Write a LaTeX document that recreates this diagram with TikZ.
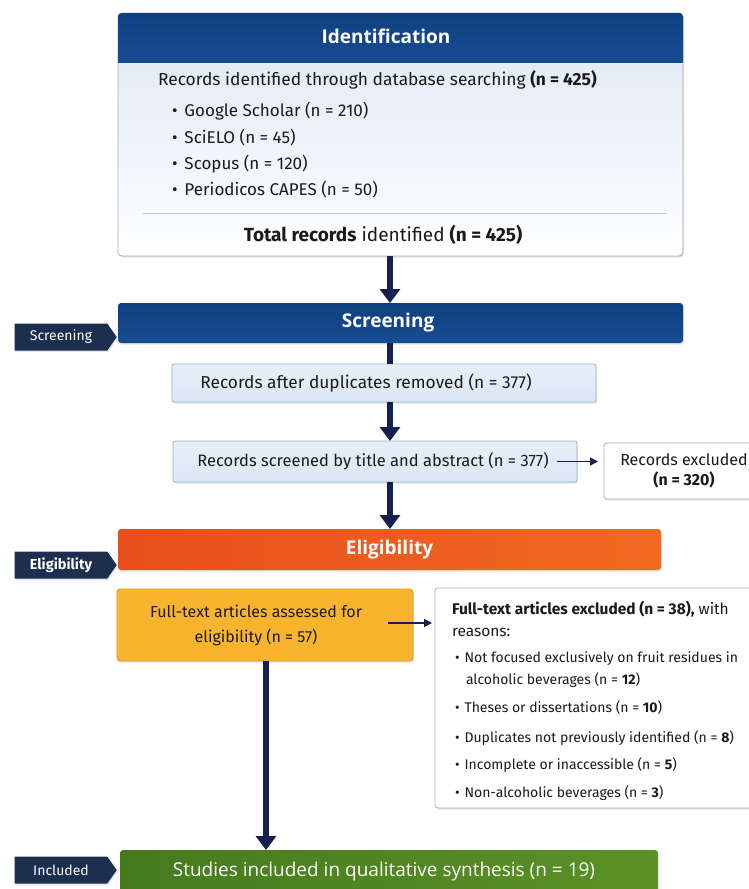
\documentclass[tikz,border=0pt]{standalone}
\usepackage{fontspec}
\setmainfont{Fira Sans}
\newfontfamily\headfont{Open Sans}
\usetikzlibrary{shapes.symbols,shadows,arrows.meta}
\definecolor{hdrblue}{HTML}{0E3F80}
\definecolor{hdrblue2}{HTML}{1A4C92}
\definecolor{navy}{HTML}{16204E}
\definecolor{tagc}{HTML}{1C2F4F}
\definecolor{lightbox}{HTML}{DCE7F5}
\definecolor{lightbord}{HTML}{9FB3CE}
\definecolor{idtop}{HTML}{DDE7F3}
\definecolor{orng}{HTML}{E84E1B}
\definecolor{orng2}{HTML}{F26A22}
\definecolor{yel}{HTML}{F8B42E}
\definecolor{yelb}{HTML}{E8961C}
\definecolor{grn}{HTML}{457B1D}
\definecolor{grn2}{HTML}{5C9128}
\definecolor{txt}{HTML}{1A1A1A}
\definecolor{graybord}{HTML}{A9AEB6}
\begin{document}
\begin{tikzpicture}[x=1pt,y=-1pt,
  every node/.style={inner sep=0pt, outer sep=0pt, text=txt},
  shad/.style={drop shadow={opacity=0.22, shadow xshift=1pt, shadow yshift=-1.5pt}},
  band/.style={draw=none, rounded corners=3pt, shad, font=\headfont\bfseries\fontsize{19}{22}\selectfont, text=white},
  tag/.style={shape=signal, signal to=east, signal pointer angle=110, fill=tagc, text=white,
     minimum width=102pt, minimum height=27pt, font=\fontsize{14}{16}\selectfont, shad},
  lbox/.style={draw=lightbord, line width=0.8pt, rounded corners=2pt, fill=lightbox, shad,
     top color=lightbox!70!white, bottom color=lightbox, font=\fontsize{16.5}{19}\selectfont},
  wbox/.style={draw=graybord, line width=0.8pt, rounded corners=3pt, fill=white, shad},
  flow/.style={draw=navy, line width=5.5pt, -{Triangle[width=20pt,length=14pt]}},
  thin/.style={draw=navy, line width=1.4pt, -{Triangle[width=8pt,length=8pt]}},
  body/.style={font=\fontsize{17.4}{20}\selectfont, anchor=west},
  bul/.style={font=\fontsize{17}{20}\selectfont, anchor=west},
  rs/.style={font=\fontsize{14}{17}\selectfont, anchor=west}
]
\useasboundingbox (0,0) rectangle (748,889);
\coordinate (cx) at (390,0);
\coordinate (cy) at (266,0);

% Identification box
\node[draw=graybord, line width=0.8pt, rounded corners=4pt, minimum width=565pt, minimum height=243pt,
  top color=idtop, bottom color=white, shad] (idbox) at (400.5,134.5) {};
\begin{scope}
  \clip[rounded corners=4pt] (idbox.north west) rectangle (idbox.south east);
  \fill[top color=hdrblue, bottom color=hdrblue2] (idbox.north west) rectangle ([yshift=-49pt]idbox.north east);
\end{scope}
\node[font=\headfont\bfseries\fontsize{19}{22}\selectfont, text=white] (idt) at (386,36) {Identification};
\node[body] (id1) at (158,80) {Records identified through database searching \textbf{(n = 425)}};
\node[bul] (g1) at (172,111) {\textbullet\hspace{7pt}Google Scholar (n = 210)};
\node[bul] (g2) at (172,138) {\textbullet\hspace{7pt}SciELO (n = 45)};
\node[bul] (g3) at (172,164) {\textbullet\hspace{7pt}Scopus (n = 120)};
\node[bul] (g4) at (172,190) {\textbullet\hspace{7pt}Periodicos CAPES (n = 50)};
\coordinate (sepl) at (143,213);
\coordinate (sepr) at (667,213);
\draw[draw=lightbord!70!white, line width=0.8pt] (sepl) -- (sepr);
\node[font=\fontsize{19}{22}\selectfont] (tot) at (383,235) {\textbf{Total records} identified \textbf{(n = 425)}};

% Screening
\node[band, minimum width=565pt, minimum height=40pt, top color=hdrblue, bottom color=hdrblue2] (scr) at (400.5,323) {\hspace{-25pt}Screening};
\node[tag] (tscr) at (61,337) {Screening};
\node[lbox, minimum width=424pt, minimum height=38pt, font=\fontsize{17.3}{20}\selectfont] (b1) at (384,383) {\hspace{-36pt}Records after duplicates removed (n = 377)};
\node[lbox, minimum width=404pt, minimum height=41pt] (b2) at (375,461.5) {\hspace{-4pt}Records screened by title and abstract (n = 377)};
\node[wbox, minimum width=160pt, minimum height=56pt, align=center, font=\fontsize{16}{20}\selectfont] (ex) at (684,471) {Records excluded\\\textbf{(n = 320)}};

% Eligibility
\node[band, minimum width=543pt, minimum height=41pt, left color=orng, right color=orng2] (eli) at (389.5,549.5) {Eligibility};
\node[tag, font=\bfseries\fontsize{14.5}{16}\selectfont] (teli) at (61,565) {Eligibility};
\node[draw=yelb, line width=0.8pt, rounded corners=3pt, fill=yel, shad, minimum width=296pt, minimum height=72pt,
  align=center, font=\fontsize{16}{23}\selectfont] (ft) at (265,625) {\hspace{-18pt}\begin{tabular}{@{}c@{}}Full-text articles assessed for\\[2pt]eligibility (n = 57)\end{tabular}};
\node[wbox, minimum width=330pt, minimum height=220pt] (rsn) at (600,698) {};
\node[rs, font=\fontsize{15.5}{17}\selectfont] (r0) at (452,609) {\textbf{Full-text articles excluded (n = 38),} with};
\node[rs, font=\fontsize{15.5}{17}\selectfont] (r0b) at (452,632) {reasons:};
\node[rs] (r1) at (455,659) {\textbullet\hspace{5pt}Not focused exclusively on fruit residues in};
\node[rs] (r1b) at (466,680) {alcoholic beverages (n = \textbf{12})};
\node[rs] (r2) at (455,708) {\textbullet\hspace{5pt}Theses or dissertations (n = \textbf{10})};
\node[rs] (r3) at (455,738) {\textbullet\hspace{5pt}Duplicates not previously identified (n = \textbf{8})};
\node[rs] (r4) at (455,765) {\textbullet\hspace{5pt}Incomplete or inaccessible (n = \textbf{5})};
\node[rs] (r5) at (455,793) {\textbullet\hspace{5pt}Non-alcoholic beverages (n = \textbf{3})};

% Included
\node[band, minimum width=538pt, minimum height=44pt, left color=grn, right color=grn2,
  font=\headfont\fontsize{19}{22}\selectfont] (inc) at (389,872) {\hspace{-10pt}Studies included in qualitative synthesis (n = 19)};
\node[tag] (tinc) at (61,870) {Included};

% connectors
\draw[flow] (idbox.south -| cx) -- (scr.north -| cx);
\draw[draw=navy, line width=5.5pt] (scr.south -| cx) -- (b1.north -| cx);
\draw[flow] (b1.south -| cx) -- (b2.north -| cx);
\draw[thin, shorten >=6pt] ([xshift=-20pt]b2.east) -- (b2.east -| ex.west);
\draw[flow] (b2.south -| cx) -- (eli.north -| cx);
\draw[thin, shorten >=3pt] ([xshift=-25pt,yshift=2pt]ft.east) -- ([yshift=2pt]ft.east -| rsn.west);
\draw[flow] (ft.south -| cy) -- (inc.north -| cy);
\end{tikzpicture}
\end{document}
